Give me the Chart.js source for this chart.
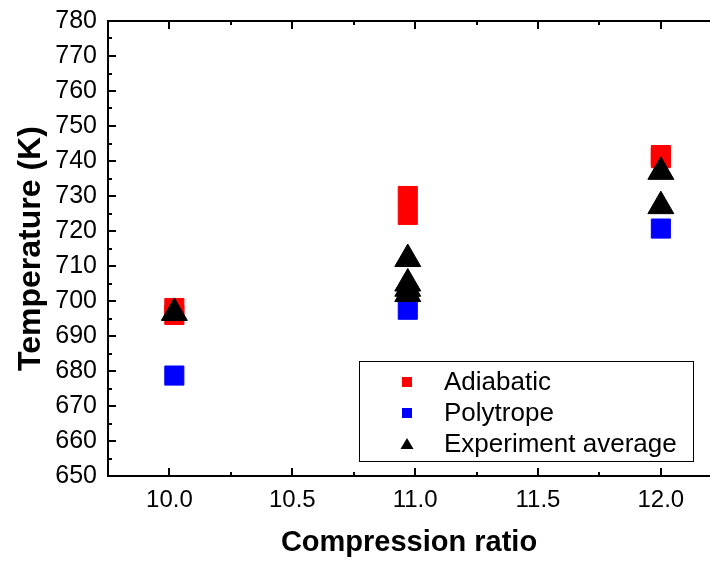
<!DOCTYPE html>
<html>
<head>
<meta charset="utf-8">
<script src="https://cdn.jsdelivr.net/npm/chart.js@4.4.0/dist/chart.umd.min.js"></script>
<style>
html, body { margin: 0; padding: 0; background: #fff; }
</style>
</head>
<body>
<canvas id="chart" width="710" height="561"></canvas>
<script>
// Series names (legend order)
const seriesNames = ["Adiabatic", "Polytrope", "Experiment average"];

// Values
const adiabaticRatio = [10.02, 10.02, 10.97, 10.97, 12.0, 12.0];
const adiabaticTemp = [698, 696, 730, 724.6, 741.7, 740.8];

const polytropeRatio = [10.02, 10.97, 12.0];
const polytropeTemp = [678.7, 697.5, 720.7];

const experimentRatio = [10.02, 10.97, 10.97, 10.97, 10.97, 12.0, 12.0];
const experimentTemp = [696.6, 712, 705, 703.5, 702, 736.9, 727.1];

// Tick labels
const xTicks = [10.0, 10.5, 11.0, 11.5, 12.0];
const xMinorTicks = [10.25, 10.75, 11.25, 11.75];
const yTicks = [650, 660, 670, 680, 690, 700, 710, 720, 730, 740, 750, 760, 770, 780];
const yMinorTicks = [655, 665, 675, 685, 695, 705, 715, 725, 735, 745, 755, 765, 775];

const fontFamily = "'Liberation Sans', Arial, sans-serif";

function toPoints(xs, ys) {
	return xs.map((x, i) => ({ x: x, y: ys[i] }));
}

// Inward ticks and frame (left, bottom, top)
const framePlugin = {
	id: "frame",
	afterDraw(chart) {
		const { ctx, chartArea: a, scales } = chart;
		const x = scales.x;
		const y = scales.y;
		ctx.save();
		ctx.strokeStyle = "#000";
		ctx.lineWidth = 2;
		ctx.beginPath();
		ctx.moveTo(a.right, a.top);
		ctx.lineTo(a.left, a.top);
		ctx.lineTo(a.left, a.bottom);
		ctx.lineTo(a.right, a.bottom);

		xTicks.concat(xMinorTicks).forEach(v => {
			const len = xTicks.includes(v) ? 8 : 4;
			const px = Math.round(x.getPixelForValue(v));
			ctx.moveTo(px, a.bottom);
			ctx.lineTo(px, a.bottom - len);
			ctx.moveTo(px, a.top);
			ctx.lineTo(px, a.top + len);
		});

		yTicks.concat(yMinorTicks).forEach(v => {
			const len = yTicks.includes(v) ? 8 : 4;
			const py = Math.round(y.getPixelForValue(v));
			ctx.moveTo(a.left, py);
			ctx.lineTo(a.left + len, py);
		});
		ctx.stroke();
		ctx.restore();
	},
};

// Legend box inside the plot
const legendBox = {
	id: "legendBox",
	afterDatasetsDraw(chart) {
		const { ctx } = chart;
		const box = { left: 359, top: 361, right: 693, bottom: 461 };
		ctx.save();
		ctx.fillStyle = "#fff";
		ctx.fillRect(box.left, box.top, box.right - box.left, box.bottom - box.top);
		ctx.strokeStyle = "#000";
		ctx.lineWidth = 1;
		ctx.strokeRect(box.left + 0.5, box.top + 0.5, box.right - box.left, box.bottom - box.top);

		const rows = [382, 413, 444];
		chart.data.datasets.forEach((ds, i) => {
			const cy = rows[i];
			const cx = 407;
			ctx.fillStyle = ds.backgroundColor;
			if (ds.pointStyle === "triangle") {
				ctx.beginPath();
				ctx.moveTo(cx, cy - 6);
				ctx.lineTo(cx + 6.5, cy + 5);
				ctx.lineTo(cx - 6.5, cy + 5);
				ctx.closePath();
				ctx.fill();
			} else {
				ctx.fillRect(cx - 5, cy - 5, 10, 10);
			}
			ctx.fillStyle = "#000";
			ctx.font = "26px " + fontFamily;
			ctx.textBaseline = "middle";
			ctx.textAlign = "left";
			ctx.fillText(ds.label, 444, cy + 1);
		});
		ctx.restore();
	},
};

new Chart(document.getElementById("chart"), {
	type: "scatter",
	data: {
		datasets: [
			{
				label: seriesNames[0],
				data: toPoints(adiabaticRatio, adiabaticTemp),
				pointStyle: "rect",
				pointRadius: 13.5,
				backgroundColor: "#ff0000",
				borderColor: "#ff0000",
				borderWidth: 1,
				order: 3,
			},
			{
				label: seriesNames[1],
				data: toPoints(polytropeRatio, polytropeTemp),
				pointStyle: "rect",
				pointRadius: 13.5,
				backgroundColor: "#0000ff",
				borderColor: "#0000ff",
				borderWidth: 1,
				order: 2,
			},
			{
				label: seriesNames[2],
				data: toPoints(experimentRatio, experimentTemp),
				pointStyle: "triangle",
				pointRadius: 15,
				backgroundColor: "#000000",
				borderColor: "#000000",
				borderWidth: 1,
				order: 1,
			},
		],
	},
	options: {
		responsive: false,
		animation: false,
		devicePixelRatio: 1,
		layout: {
			autoPadding: false,
			padding: { top: 21, right: 0, bottom: 0, left: 0 },
		},
		plugins: {
			legend: { display: false },
			tooltip: { enabled: false },
		},
		scales: {
			x: {
				type: "linear",
				min: 9.75,
				max: 12.2,
				grid: { display: false, drawTicks: false },
				border: { display: false },
				afterBuildTicks: s => {
					s.ticks = xTicks.map(v => ({ value: v }));
				},
				afterFit: s => {
					s.height = 85;
					s.paddingLeft = 0;
					s.paddingRight = 0;
				},
				ticks: {
					color: "#000",
					padding: 10,
					font: { family: fontFamily, size: 24 },
					callback: v => Number(v).toFixed(1),
				},
				title: {
					display: true,
					text: "Compression ratio",
					color: "#000",
					font: { family: fontFamily, size: 29, weight: "bold" },
					padding: { top: 0, bottom: 1 },
				},
			},
			y: {
				type: "linear",
				min: 650,
				max: 780,
				grid: { display: false, drawTicks: false },
				border: { display: false },
				afterBuildTicks: s => {
					s.ticks = yTicks.map(v => ({ value: v }));
				},
				afterFit: s => {
					s.width = 108;
					s.paddingTop = 0;
					s.paddingBottom = 0;
				},
				ticks: {
					color: "#000",
					padding: 11,
					font: { family: fontFamily, size: 25 },
				},
				title: {
					display: true,
					text: "Temperature (K)",
					color: "#000",
					font: { family: fontFamily, size: 32, weight: "bold" },
					padding: { top: 12, bottom: 0 },
				},
			},
		},
	},
	plugins: [framePlugin, legendBox],
});
</script>
</body>
</html>
